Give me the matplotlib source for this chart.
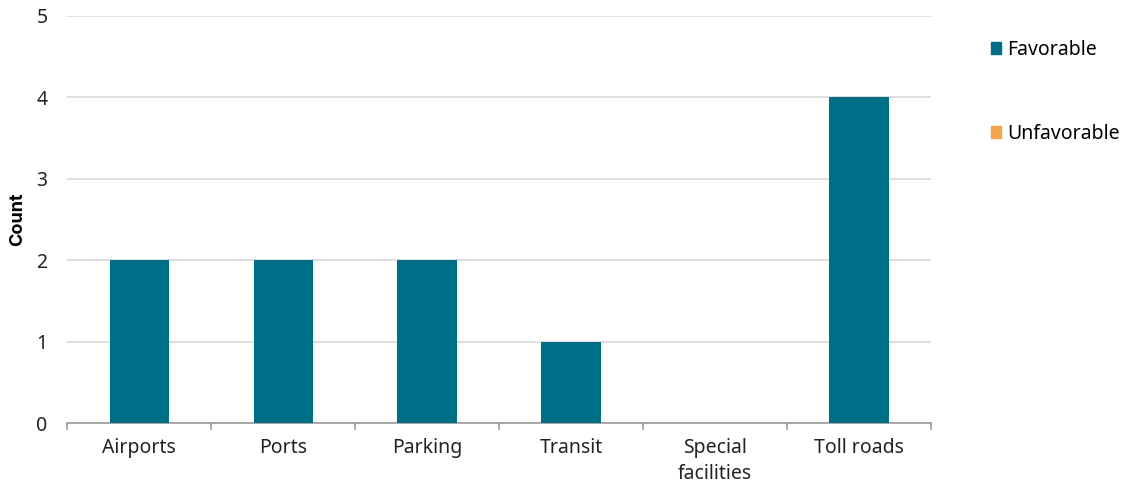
import matplotlib.pyplot as plt
from matplotlib.patches import Patch
import numpy as np

### data
categories = ["Airports", "Ports", "Parking", "Transit", "Special\nfacilities", "Toll roads"]
favorable = [2, 2, 2, 1, 0, 4]
unfavorable = [0, 0, 0, 0, 0, 0]

fav_color = "#006E87"
unfav_color = "#F2A54A"

plt.rcParams['font.family'] = ['Noto Sans', 'DejaVu Sans']
plt.rcParams['font.size'] = 14

fig = plt.figure(figsize=(11.21, 4.84), dpi=100)
ax = fig.add_axes([0.0598, 0.126, 0.7707, 0.841])

x = np.arange(len(categories))
ax.bar(x, favorable, width=0.41, color=fav_color, zorder=3)
ax.bar(x, unfavorable, width=0.41, bottom=favorable, color=unfav_color, zorder=3)

ax.set_xlim(-0.5, len(categories) - 0.5)
ax.set_ylim(0, 5)
ax.set_yticks(range(6))
ax.yaxis.grid(True, color="#d9d9d9", linewidth=1.2, zorder=0)
ax.tick_params(axis='y', length=0, pad=14, labelsize=14, colors="#222222")

# category labels centred, tick marks sit between categories
ax.set_xticks(x)
ax.set_xticklabels(categories, fontsize=14, color="#222222", linespacing=1.4)
ax.tick_params(axis='x', length=0, pad=11)
ax.set_xticks(np.arange(-0.5, len(categories)), minor=True)
ax.tick_params(axis='x', which='minor', length=5, color="#999999", width=1.2)

for side in ['top', 'right', 'left']:
    ax.spines[side].set_visible(False)
ax.spines['bottom'].set_color("#999999")
ax.spines['bottom'].set_linewidth(1.2)

ax.set_ylabel("Count", fontsize=13, fontweight='bold', family=['Inter', 'DejaVu Sans'],
              labelpad=7)

handles = [Patch(color=fav_color, label="Favorable"),
           Patch(color=unfav_color, label="Unfavorable")]
fig.legend(handles=handles, loc='upper left', bbox_to_anchor=(0.868, 0.954),
           frameon=False, fontsize=14, handlelength=0.55, handleheight=0.55,
           handletextpad=0.3, labelspacing=3.3)

fig.savefig("out.png", dpi=100)
